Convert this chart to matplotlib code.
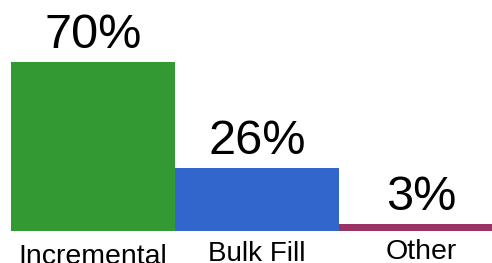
import matplotlib
matplotlib.use("Agg")
import matplotlib.pyplot as plt

categories = ["Incremental", "Bulk Fill", "Other"]
values = [70, 26, 3]
value_labels = ["70%", "26%", "3%"]
colors = ["#339933", "#3366CC", "#993366"]

W, H, DPI = 492, 263, 100
fig = plt.figure(figsize=(W / DPI, H / DPI), dpi=DPI)
left_px, base_px = 11, 231
ax = fig.add_axes([left_px / W, (H - base_px) / H, (W - left_px) / W, base_px / H])
bar_px = 164
ax.set_xlim(-0.5, -0.5 + (W - left_px) / bar_px)
ax.set_ylim(0, base_px / 2.414)
x = list(range(len(categories)))
ax.bar(x, values, width=1.0, color=colors, linewidth=0)
ax.axis("off")

font = "Liberation Sans"
for xi, v, lab in zip(x, values, value_labels):
    ax.annotate(lab, (xi, v), xytext=(0, 3), textcoords="offset points",
                ha="center", va="bottom", fontsize=35, family=font, color="black")

label_offsets = [-9.5, -7.5, -6]
label_sizes = [20.5, 20, 20.5]
for xi, cat, off, fs in zip(x, categories, label_offsets, label_sizes):
    ax.annotate(cat, (xi, 0), xytext=(0, off), textcoords="offset points",
                ha="center", va="top", fontsize=fs, family=font, color="black",
                annotation_clip=False)

fig.savefig("out.png", dpi=DPI)
